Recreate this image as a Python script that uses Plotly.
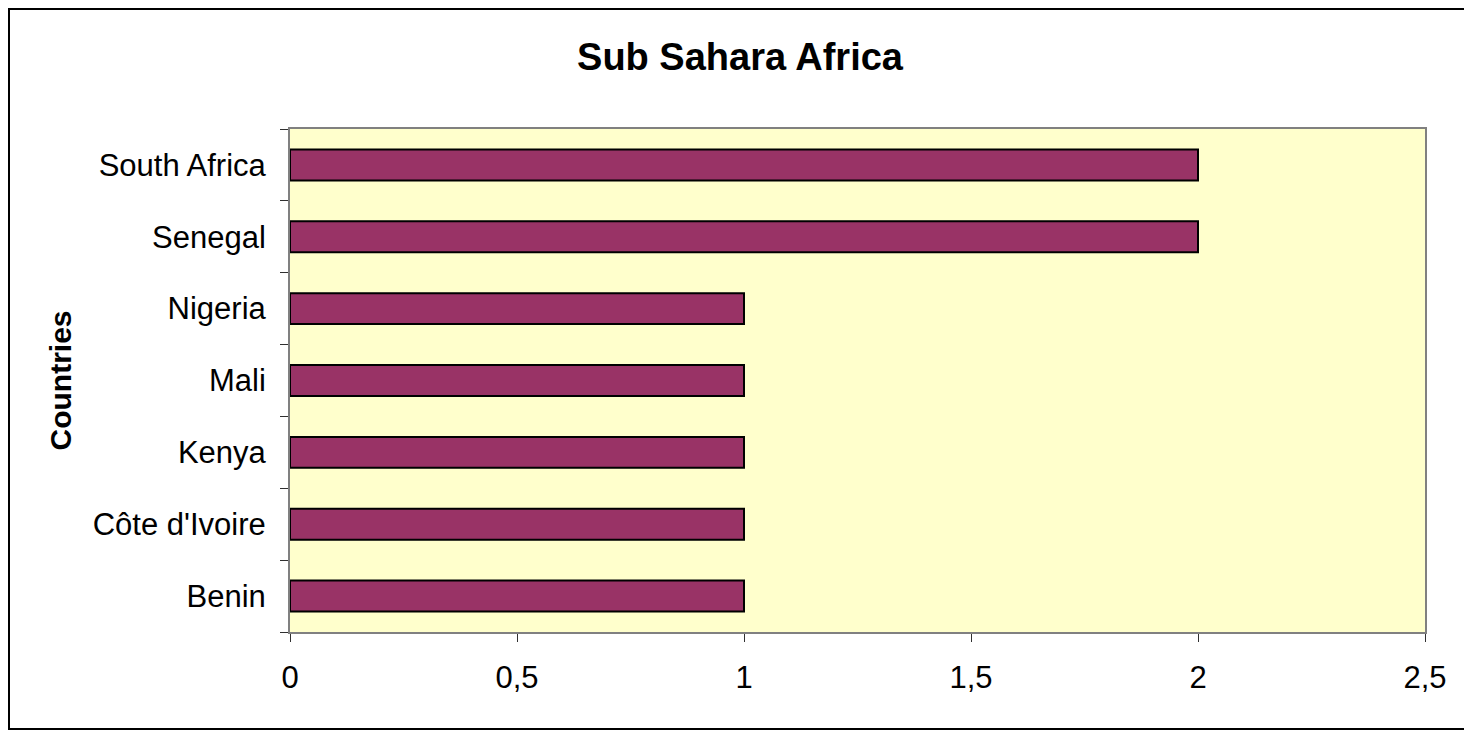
import plotly.graph_objects as go

countries = ["Benin", "Côte d'Ivoire", "Kenya", "Mali", "Nigeria", "Senegal", "South Africa"]
values = [1, 1, 1, 1, 1, 2, 2]
x_ticks = [0, 0.5, 1, 1.5, 2, 2.5]

fnt = "Liberation Sans, Arial, sans-serif"

# the page puts the figure 8px in from the top-left corner
W, H = 1464, 723
L, R, T, B = 282, 47, 121, 99
pw, ph = W - L - R, H - T - B

fig = go.Figure()
fig.add_trace(go.Bar(
    y=countries, x=values, orientation="h",
    width=0.43,
    marker=dict(color="#993366", line=dict(color="black", width=2)),
))

fig.update_layout(
    width=W, height=H,
    margin=dict(l=L, r=R, t=T, b=B),
    paper_bgcolor="white",
    plot_bgcolor="#FFFFCC",
    separators=", ",
    showlegend=False,
    font=dict(family=fnt, size=31, color="black"),
    title=dict(text="<b>Sub Sahara Africa</b>", x=0.5, xref="container", xanchor="center",
               y=1 - 49 / H, yref="container", yanchor="middle",
               font=dict(family=fnt, size=38, color="black")),
)

fig.update_xaxes(
    range=[0, 2.5], tickvals=x_ticks,
    showgrid=False, zeroline=False,
    ticks="outside", ticklen=8, tickcolor="#303030",
    showline=True, linecolor="#808080", linewidth=2, mirror=True,
    tickfont=dict(size=31), ticklabelstandoff=9,
)
fig.update_yaxes(
    type="category", categoryorder="array", categoryarray=countries,
    tickson="boundaries",
    showgrid=False,
    ticks="outside", ticklen=8, tickcolor="#303030",
    showline=True, linecolor="#808080", linewidth=2, mirror=True,
    tickfont=dict(size=31), ticklabelstandoff=16,
    title=dict(text="<b>Countries</b>", font=dict(size=30), standoff=12),
)

# outer chart border (right edge runs off the page)
fig.add_shape(type="rect", xref="paper", yref="paper",
              x0=(1 - L) / pw, x1=(1700 - L) / pw,
              y0=(T + ph - 721) / ph, y1=(T + ph - 1) / ph,
              line=dict(color="black", width=2), fillcolor="rgba(0,0,0,0)", layer="below")

fig.write_html("out.html")
